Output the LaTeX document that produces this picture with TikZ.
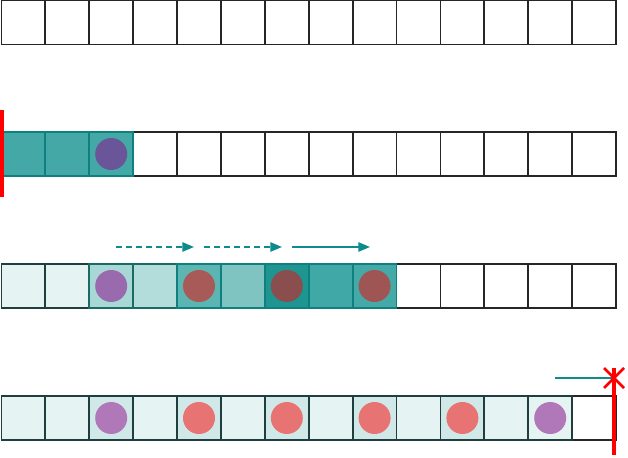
\documentclass[tikz,border=0pt]{standalone}
\usepackage{xcolor}
\usepackage{tikz}
\usetikzlibrary{arrows.meta}

\definecolor{tealline}{HTML}{0E8080}
\definecolor{tealarrow}{HTML}{0E8C8C}
\definecolor{tealdeep}{HTML}{1A6A66}
\definecolor{tealfill}{HTML}{44A8A6}
\definecolor{palecell}{HTML}{E5F3F2}
\definecolor{markcell}{HTML}{D0E9E8}
\definecolor{edgegray}{HTML}{1F3F3F}
\definecolor{plum}{HTML}{6A5599}
\definecolor{plumlight}{HTML}{B077B9}
\definecolor{coral}{HTML}{E87373}

\begin{document}
\begin{tikzpicture}[x=0.03cm, y=-0.03cm,
  cell/.style={rectangle, draw=black!85, line width=1.5pt, minimum size=1.317cm,
               inner sep=0pt, fill=white},
  dot/.style={circle, inner sep=0pt, minimum size=0.96cm},
  arrow/.style={-{Triangle[length=10pt, width=8pt]}, tealarrow, line width=1.4pt},
  dashes/.style={dash pattern=on 5pt off 3.5pt},
  cut/.style={red, line width=2.7pt}
]
\useasboundingbox (0,0) rectangle (628,458);

% Row 1: empty array
\foreach \i in {0,...,13}
  \node[cell] (a\i) at ({23.4+43.9*\i},22.5) {};

% Row 2: first block taken
\foreach \i in {3,...,13}
  \node[cell] (b\i) at ({23.4+43.9*\i},154) {};
\foreach \i in {0,1,2}
  \node[cell, draw=tealline, fill=tealfill] (b\i) at ({23.4+43.9*\i},154) {};
\node[dot, fill=plum] (bdot) at (b2) {};
\coordinate (btop) at (2,110);
\coordinate (bbot) at (2,197);
\draw[cut] (btop) -- (bbot);

% Row 3: sliding along
\foreach \i in {9,...,13}
  \node[cell] (c\i) at ({23.4+43.9*\i},286) {};
\foreach \i in {0,1}
  \node[cell, draw=edgegray, fill=palecell] (c\i) at ({23.4+43.9*\i},286) {};
\foreach \i/\col in {2/A8D8D6, 3/B2DDDA} {
  \definecolor{cfill}{HTML}{\col}
  \node[cell, draw=tealdeep, fill=cfill] (c\i) at ({23.4+43.9*\i},286) {};
}
\foreach \i/\col in {4/5DB5B1, 5/80C4C1, 6/1E9590, 7/40A8A6, 8/45A9A7} {
  \definecolor{cfill}{HTML}{\col}
  \node[cell, draw=tealline, fill=cfill] (c\i) at ({23.4+43.9*\i},286) {};
}
\foreach \i/\col in {2/9A6AAE, 4/A85A58, 6/8B4E4E, 8/A05555} {
  \definecolor{cfill}{HTML}{\col}
  \node[dot, fill=cfill] (cdot\i) at (c\i) {};
}

% Arrows above row 3
\coordinate (p1) at (116,247);
\coordinate (p2) at (194,247);
\coordinate (p3) at (204,247);
\coordinate (p4) at (282,247);
\coordinate (p5) at (292,247);
\coordinate (p6) at (370,247);
\draw[arrow, dashes] (p1) -- (p2);
\draw[arrow, dashes] (p3) -- (p4);
\draw[arrow] (p5) -- (p6);

% Row 4: end of the run
\node[cell] (d13) at ({23.4+43.9*13},418) {};
\foreach \i in {0,1,3,5,7,9,11,12}
  \node[cell, draw=edgegray, fill=palecell] (d\i) at ({23.4+43.9*\i},418) {};
\foreach \i in {2,4,6,8,10}
  \node[cell, draw=edgegray, fill=markcell] (d\i) at ({23.4+43.9*\i},418) {};
\node[dot, fill=plumlight] (ddot2) at (d2) {};
\foreach \i in {4,6,8,10}
  \node[dot, fill=coral] (ddot\i) at (d\i) {};
\node[dot, fill=plumlight] (ddot12) at (d12) {};

% Stop mark
\coordinate (dtop) at (614,368);
\coordinate (dbot) at (614,455);
\coordinate (xmid) at (614,378);
\coordinate (tail) at (555,378);
\draw[tealarrow, line width=1.4pt] (tail) -- (xmid);
\draw[cut] (dtop) -- (dbot);
\draw[cut, line width=2.2pt] ([shift={(-10,-10)}]xmid) -- ([shift={(10,10)}]xmid);
\draw[cut, line width=2.2pt] ([shift={(-10,10)}]xmid) -- ([shift={(10,-10)}]xmid);

\end{tikzpicture}
\end{document}
